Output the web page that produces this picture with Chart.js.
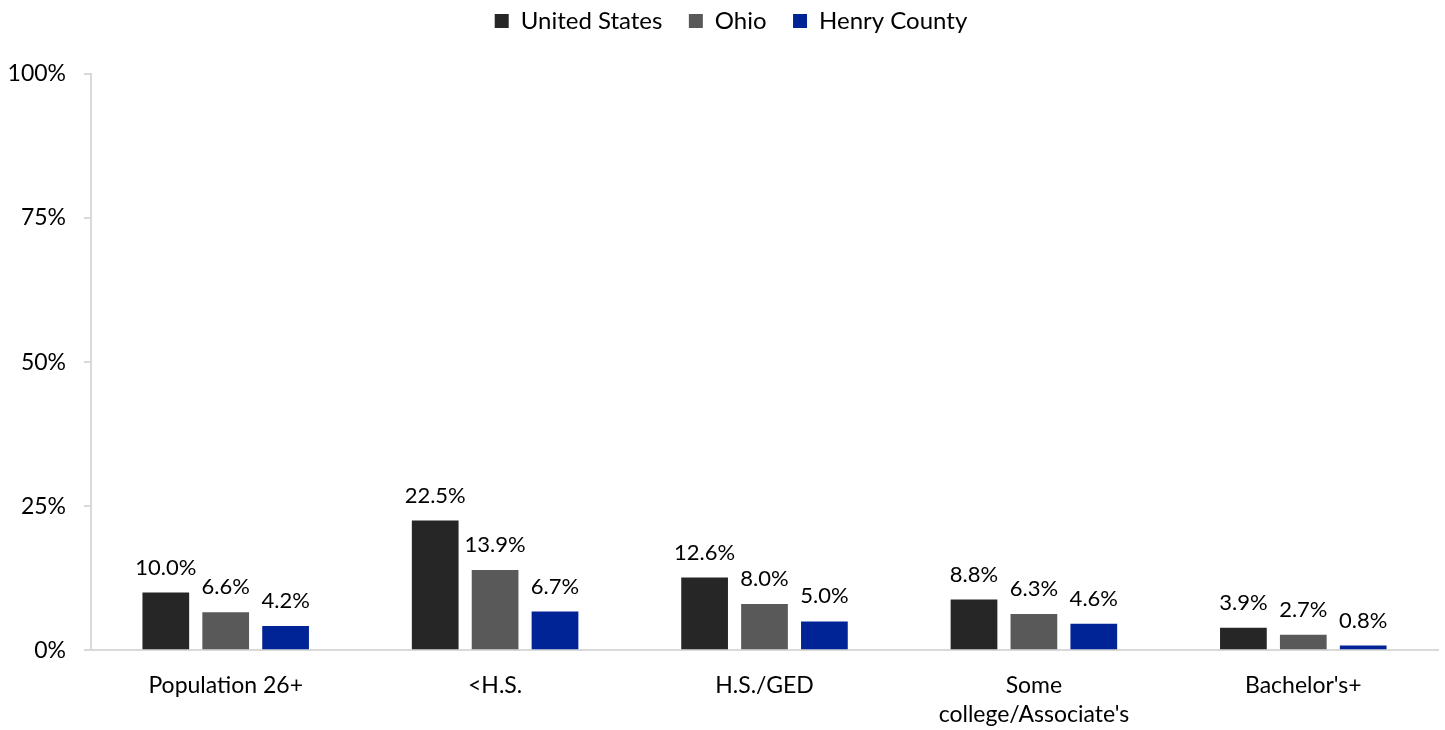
<!DOCTYPE html>
<html>
<head>
<meta charset="utf-8">
<script src="https://cdn.jsdelivr.net/npm/chart.js@4"></script>
<style>
  html, body { margin: 0; padding: 0; background: #fff; }
  #wrap { width: 1445px; height: 730px; }
</style>
</head>
<body>
<div id="wrap"><canvas id="eduChart"></canvas></div>
<script>
const categories = ["Population 26+", "<H.S.", "H.S./GED", ["Some", "college/Associate's"], "Bachelor's+"];
const seriesNames = ["United States", "Ohio", "Henry County"];
const usValues = [10.0, 22.5, 12.6, 8.8, 3.9];
const ohioValues = [6.6, 13.9, 8.0, 6.3, 2.7];
const henryValues = [4.2, 6.7, 5.0, 4.6, 0.8];
const yTicks = [0, 25, 50, 75, 100];

const colors = ["#262626", "#595959", "#002395"];
const font = "Lato, 'Open Sans', sans-serif";

// draw the value above each bar
const valueLabels = {
    id: "valueLabels",
    afterDatasetsDraw(chart) {
        const ctx = chart.ctx;
        ctx.save();
        ctx.font = "22px " + font;
        ctx.fillStyle = "#000";
        ctx.textAlign = "center";
        ctx.textBaseline = "middle";
        chart.data.datasets.forEach((ds, i) => {
            chart.getDatasetMeta(i).data.forEach((bar, j) => {
                ctx.fillText(ds.data[j].toFixed(1) + "%", bar.x, bar.y - 25);
            });
        });
        ctx.restore();
    }
};

// extra room under the legend, and nudge it right a bit
const legendGap = {
    id: "legendGap",
    beforeInit(chart) {
        const fit = chart.legend.fit;
        chart.legend.fit = function () {
            fit.bind(chart.legend)();
            this.height += 31;
        };
    },
    afterLayout(chart) {
        chart.legend.left += 12;
        chart.legend.right += 12;
    }
};

new Chart(document.getElementById("eduChart"), {
    type: "bar",
    data: {
        labels: categories,
        datasets: [usValues, ohioValues, henryValues].map((vals, i) => ({
            label: seriesNames[i],
            data: vals,
            backgroundColor: colors[i],
            categoryPercentage: 0.667,
            barPercentage: 0.78
        }))
    },
    options: {
        responsive: true,
        maintainAspectRatio: false,
        animation: false,
        layout: { padding: { top: 1, right: 7, left: 0, bottom: -20 } },
        plugins: {
            legend: {
                position: "top",
                labels: {
                    font: { family: font, size: 24 },
                    color: "#000",
                    boxWidth: 14,
                    boxHeight: 14,
                    padding: 8,
                    generateLabels(chart) {
                        const items = Chart.defaults.plugins.legend.labels.generateLabels(chart);
                        items.forEach((it, i) => {
                            if (i < items.length - 1) it.text += "\u00a0\u00a0\u00a0";
                        });
                        return items;
                    }
                }
            },
            tooltip: { enabled: false }
        },
        scales: {
            x: {
                grid: { display: false, drawTicks: false },
                border: { color: "#d9d9d9", width: 2 },
                ticks: {
                    font: { family: font, size: 23, lineHeight: 1.3 },
                    color: "#000",
                    padding: 20,
                    maxRotation: 0
                }
            },
            y: {
                min: 0,
                max: 100,
                afterBuildTicks(axis) {
                    axis.ticks = yTicks.map(v => ({ value: v }));
                },
                afterFit(axis) {
                    axis.width = 91;
                },
                grid: { drawOnChartArea: false, drawTicks: true, tickLength: 7, color: "#d9d9d9", lineWidth: 2 },
                border: { color: "#d9d9d9", width: 2 },
                ticks: {
                    font: { family: font, size: 23 },
                    color: "#000",
                    padding: 18,
                    callback: v => v + "%"
                }
            }
        }
    },
    plugins: [valueLabels, legendGap]
});
</script>
</body>
</html>
